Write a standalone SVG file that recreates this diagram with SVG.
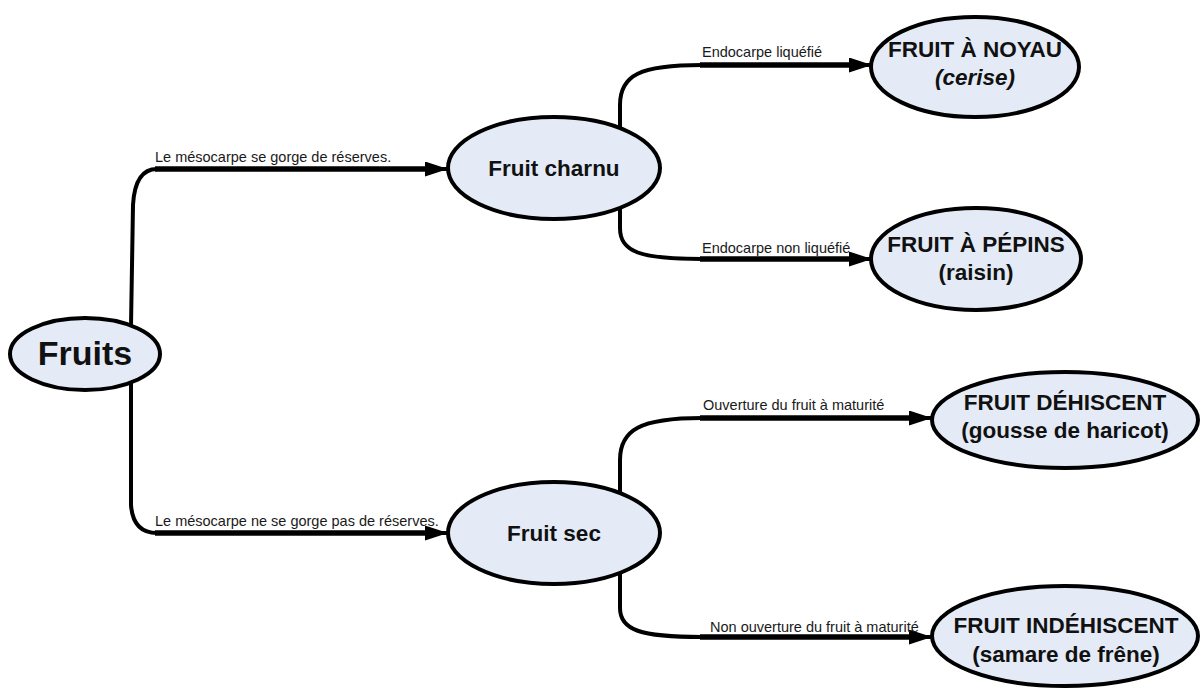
<svg xmlns="http://www.w3.org/2000/svg" width="1200" height="689" viewBox="0 0 1200 689">
<defs>
<marker id="arr" markerUnits="userSpaceOnUse" markerWidth="24" markerHeight="16" refX="23" refY="7.5" orient="auto">
<path d="M0,0 L23,7.5 L0,15 z" fill="#000"/>
</marker>
<style>
.node{fill:#e4ebf7;stroke:#000;stroke-width:4}
.conn{fill:none;stroke:#000;stroke-width:4}
.ul{fill:none;stroke:#000;stroke-width:5.5}
.lbl{font-family:"Liberation Sans",Arial,sans-serif;font-size:14.5px;fill:#1a1a1a}
.nt{font-family:"Liberation Sans",Arial,sans-serif;font-size:22.5px;font-weight:bold;fill:#111;text-anchor:middle}
</style>
</defs>
<rect width="1200" height="689" fill="#fff"/>
<g id="connectors">
<path class="conn" d="M131,326 L133,205 Q135,169 157,169 L448,169" marker-end="url(#arr)"/>
<path class="ul" d="M155,169 L430,169"/>
<path class="conn" d="M131,382 L131,505 Q133,533 157,533 L448,533" marker-end="url(#arr)"/>
<path class="ul" d="M155,533 L430,533"/>
<path class="conn" d="M620,128 L620,105 C620,75 640,65 702,65 L872,65" marker-end="url(#arr)"/>
<path class="ul" d="M700,65 L850,65"/>
<path class="conn" d="M620,207 L620,228 C620,252 640,259 702,259 L872,259" marker-end="url(#arr)"/>
<path class="ul" d="M700,259 L850,259"/>
<path class="conn" d="M620,494 L620,460 C620,430 640,418 702,418 L932,418" marker-end="url(#arr)"/>
<path class="ul" d="M700,418 L910,418"/>
<path class="conn" d="M620,572 L620,608 C620,630 640,637 702,637 L932,637" marker-end="url(#arr)"/>
<path class="ul" d="M700,637 L910,637"/>
<text class="lbl" x="155" y="162">Le mésocarpe se gorge de réserves.</text>
<text class="lbl" x="155" y="526">Le mésocarpe ne se gorge pas de réserves.</text>
<text class="lbl" x="702" y="57">Endocarpe liquéfié</text>
<text class="lbl" x="702" y="253">Endocarpe non liquéfié</text>
<text class="lbl" x="703" y="410">Ouverture du fruit à maturité</text>
<text class="lbl" x="710" y="632">Non ouverture du fruit à maturité</text>
</g>
<g id="fruits">
<ellipse class="node" cx="85" cy="354" rx="75" ry="36"/>
<text class="nt" x="85" y="365" style="font-size:34px">Fruits</text>
</g>
<g id="fruit-charnu">
<ellipse class="node" cx="554" cy="168" rx="106" ry="51"/>
<text class="nt" x="554" y="176">Fruit charnu</text>
</g>
<g id="fruit-sec">
<ellipse class="node" cx="554" cy="533" rx="106" ry="51"/>
<text class="nt" x="554" y="541">Fruit sec</text>
</g>
<g id="fruit-noyau">
<ellipse class="node" cx="975" cy="67" rx="104" ry="50"/>
<text class="nt" x="975" y="57">FRUIT À NOYAU</text>
<text class="nt" x="975" y="85" font-style="italic">(cerise)</text>
</g>
<g id="fruit-pepins">
<ellipse class="node" cx="976" cy="259" rx="105" ry="51"/>
<text class="nt" x="976" y="252">FRUIT À PÉPINS</text>
<text class="nt" x="976" y="280">(raisin)</text>
</g>
<g id="fruit-dehiscent">
<ellipse class="node" cx="1065" cy="420" rx="133" ry="48"/>
<text class="nt" x="1065" y="410">FRUIT DÉHISCENT</text>
<text class="nt" x="1065" y="438">(gousse de haricot)</text>
</g>
<g id="fruit-indehiscent">
<ellipse class="node" cx="1065" cy="636" rx="133" ry="50"/>
<text class="nt" x="1066" y="633">FRUIT INDÉHISCENT</text>
<text class="nt" x="1066" y="662">(samare de frêne)</text>
</g>
</svg>
